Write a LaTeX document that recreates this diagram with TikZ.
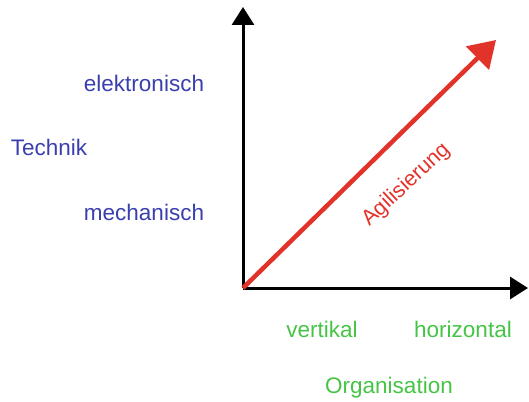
\documentclass[tikz,border=0pt]{standalone}
\usepackage{fontspec}
\setmainfont{Liberation Sans}
\usetikzlibrary{arrows.meta}
\definecolor{techblue}{HTML}{3A3FAE}
\definecolor{orggreen}{HTML}{45C445}
\definecolor{agired}{HTML}{E2332B}
\begin{document}
\begin{tikzpicture}[x=1pt,y=-1pt,
  axis/.style={line width=3pt,-{Triangle[length=18pt,width=22pt]}},
  agi/.style={line width=4.5pt,agired,-{Triangle[length=26pt,width=32pt]}},
  techlbl/.style={text=techblue,font=\fontsize{22.5}{26}\selectfont,anchor=base,inner sep=0pt},
  orglbl/.style={text=orggreen,font=\fontsize{22.5}{26}\selectfont,anchor=base,inner sep=0pt}]
\useasboundingbox (0,0) rectangle (529,401);
\coordinate (O) at (243,288);
\coordinate (Ytip) at (243,7);
\coordinate (Xtip) at (528,288);
\coordinate (Rtip) at (496,40);
\draw[axis] (O) -- (Ytip);
\draw[axis] (O) -- (Xtip);
\draw[agi] (O) -- (Rtip);
\node[techlbl] (elek) at (144,92) {elektronisch};
\node[techlbl] (tech) at (49,155) {Technik};
\node[techlbl] (mech) at (144,220) {mechanisch};
\node[orglbl] (vert) at (322,337) {vertikal};
\node[orglbl] (hor) at (463,337) {horizontal};
\node[orglbl] (org) at (389,393) {Organisation};
\node[text=agired,font=\fontsize{21.5}{24}\selectfont,anchor=base,inner sep=0pt,rotate=43] (agil) at (410,189) {Agilisierung};
\end{tikzpicture}
\end{document}
